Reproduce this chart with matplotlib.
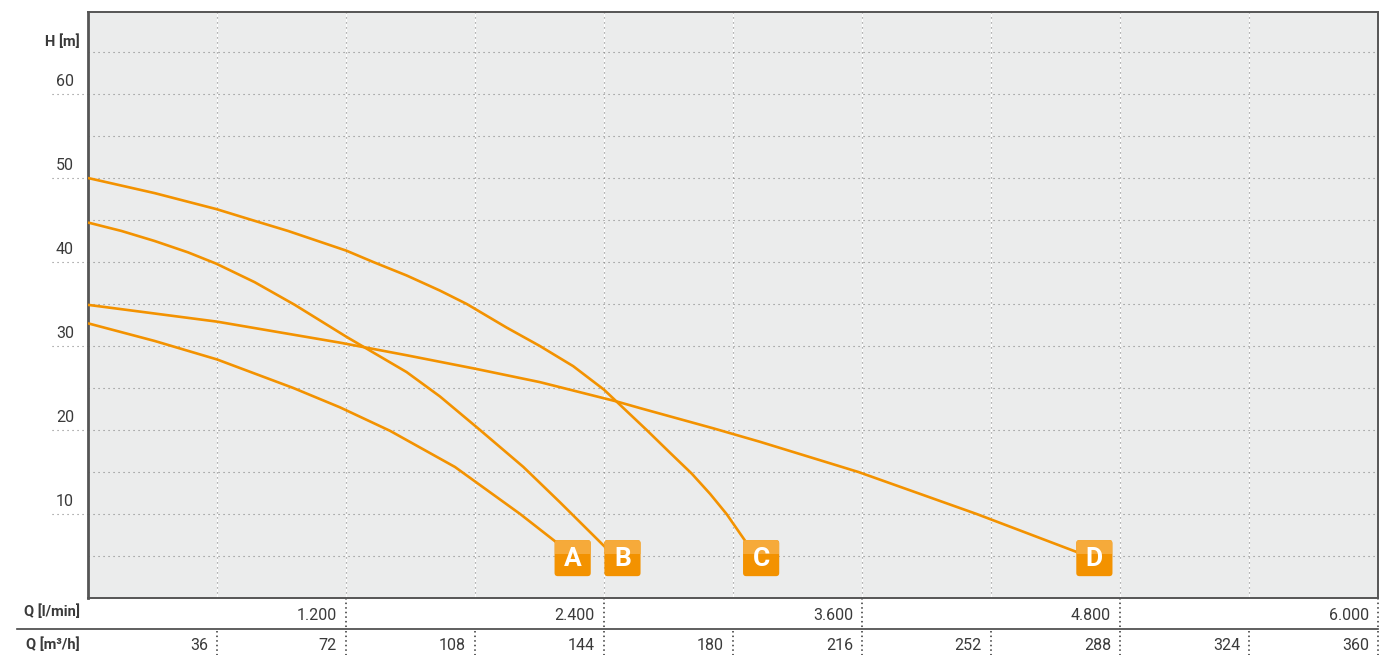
import matplotlib
matplotlib.use('Agg')  # headless
import matplotlib.pyplot as plt
import matplotlib.transforms as mtransforms
from matplotlib.patches import FancyBboxPatch, Rectangle

plt.rcParams['font.family'] = ['Roboto', 'DejaVu Sans']

# pump curves, flow in m3/h and head in m
curve_names = ['A', 'B', 'C', 'D']
q_a = [0, 18.6, 36, 57.3, 70.3, 84.3, 102.4, 120.6, 130.8]
h_a = [32.7, 30.6, 28.4, 25.0, 22.7, 19.9, 15.6, 10.0, 6.6]
q_b = [0, 9.3, 18.6, 27.9, 35.8, 46.5, 57.7, 72.1, 88.9, 98.2, 109.4,
       121.5, 131.7, 144.7]
h_b = [44.7, 43.7, 42.5, 41.15, 39.8, 37.6, 34.9, 31.1, 26.9, 24.0, 20.0,
       15.6, 11.4, 5.9]
q_c = [0, 9.3, 18.6, 35.8, 46.5, 55.8, 72.1, 79.6, 88.9, 98.2, 105.7,
       116.8, 126.1, 135.4, 144, 155.9, 162.4, 168.5, 173.6, 178.2, 183.4]
h_c = [50.0, 49.1, 48.2, 46.3, 44.9, 43.7, 41.35, 40.0, 38.4, 36.6, 35.0,
       32.2, 30.0, 27.6, 24.8, 20.0, 17.3, 14.8, 12.4, 10.0, 6.8]
q_d = [0, 36, 70.3, 88.9, 108, 126.1, 147.5, 154.1, 174.5, 187.5, 215,
       248, 276.4]
h_d = [34.9, 32.9, 30.4, 28.9, 27.3, 25.7, 23.4, 22.6, 20.2, 18.6, 15.0,
       10.0, 5.4]

# axis ticks
q_m3h_ticks = [36, 72, 108, 144, 180, 216, 252, 288, 324, 360]
q_m3h_labels = ['36', '72', '108', '144', '180', '216', '252', '288', '324', '360']
q_lmin_ticks = [72, 144, 216, 288, 360]
q_lmin_labels = ['1.200', '2.400', '3.600', '4.800', '6.000']
h_ticks = [10, 20, 30, 40, 50, 60]
h_labels = ['10', '20', '30', '40', '50', '60']

ORANGE = '#f39200'
ORANGE_LIGHT = '#f6aa3a'
TEXT = '#3a3a3a'
GRID = '#858585'

W, H = 1394, 655
fig = plt.figure(figsize=(W / 100, H / 100), dpi=100)
ax = fig.add_axes([88 / W, 57 / H, 1290 / W, 586 / H])
ax.set_facecolor('#ebecec')
ax.set_xlim(0, 360)
ax.set_ylim(0, 586 / 8.4)

for side in ['left', 'bottom', 'top', 'right']:
    ax.spines[side].set_color('#555555')
    ax.spines[side].set_linewidth(1.4)
ax.spines['left'].set_linewidth(2)
ax.set_xticks([])
ax.set_yticks([])

dots = (0, (1, 3.5))

# grid
for h in range(5, 70, 5):
    ax.axhline(h, color=GRID, lw=0.8, ls=dots, zorder=1)
for q in q_m3h_ticks[:-1]:
    ax.axvline(q, color='white', lw=0.7, zorder=0.9)
    ax.axvline(q, color=GRID, lw=0.8, ls=dots, zorder=1)

# head labels and left extensions
ytrans = mtransforms.blended_transform_factory(ax.transAxes, ax.transData)
for h, lab in zip(h_ticks, h_labels):
    ax.plot([-36 / 1290, 0], [h, h], color=GRID, lw=0.8, ls=dots,
            transform=ytrans, clip_on=False)
    ax.annotate(lab, xy=(0, h), xycoords=ytrans, xytext=(-14, 12),
                textcoords='offset pixels', ha='right', va='center',
                fontsize=11.5, color=TEXT)
ax.text(-8 / 1290, (598 - 42) / 586, 'H [m]', transform=ax.transAxes,
        ha='right', va='center', fontsize=10.5, fontweight='bold', color=TEXT)

# flow rows under the chart
xtrans = mtransforms.blended_transform_factory(ax.transData, ax.transAxes)
for q, lab in zip(q_lmin_ticks, q_lmin_labels):
    ax.plot([q, q], [0, -30 / 586], color='#333333', lw=1.1, ls=(0, (1, 2)),
            transform=xtrans, clip_on=False)
    ax.text(q - 9 / 3.583, -17 / 586, lab, transform=xtrans, ha='right',
            va='center', fontsize=11.5, color=TEXT)
for q, lab in zip(q_m3h_ticks, q_m3h_labels):
    ax.plot([q, q], [-33 / 586, -57 / 586], color='#333333', lw=1.1,
            ls=(0, (1, 2)), transform=xtrans, clip_on=False)
    ax.text(q - 9 / 3.583, -47 / 586, lab, transform=xtrans, ha='right',
            va='center', fontsize=11.5, color=TEXT)
ax.plot([-71 / 1290, 1], [-31 / 586, -31 / 586], color='#444444', lw=1.2,
        transform=ax.transAxes, clip_on=False)
ax.text(-8 / 1290, -14 / 586, 'Q [l/min]', transform=ax.transAxes,
        ha='right', va='center', fontsize=10.5, fontweight='bold', color=TEXT)
ax.text(-8 / 1290, -47 / 586, 'Q [m³/h]', transform=ax.transAxes,
        ha='right', va='center', fontsize=10.5, fontweight='bold', color=TEXT)

# curves with their letter badges
box_w, box_bottom, box_top = 10.1, 2.6, 6.9
for name, qs, hs in zip(curve_names, [q_a, q_b, q_c, q_d], [h_a, h_b, h_c, h_d]):
    ax.plot(qs, hs, color=ORANGE, lw=1.9, zorder=3, solid_capstyle='butt',
            solid_joinstyle='round')
    x0 = qs[-1] - 0.6
    box = FancyBboxPatch((x0, box_bottom), box_w, box_top - box_bottom,
                         boxstyle='round,pad=0,rounding_size=0.9',
                         mutation_aspect=3.583 / 8.4,
                         facecolor=ORANGE, edgecolor='none', zorder=4)
    ax.add_patch(box)
    top = Rectangle((x0, box_top - 0.38 * (box_top - box_bottom)), box_w,
                    0.38 * (box_top - box_bottom), facecolor=ORANGE_LIGHT,
                    edgecolor='none', zorder=4.1)
    ax.add_patch(top)
    top.set_clip_path(box)
    ax.text(x0 + box_w / 2, (box_top + box_bottom) / 2 - 0.1, name,
            ha='center', va='center', fontsize=19, fontweight='bold',
            color='white', zorder=5)

fig.savefig('out.png', dpi=100)
